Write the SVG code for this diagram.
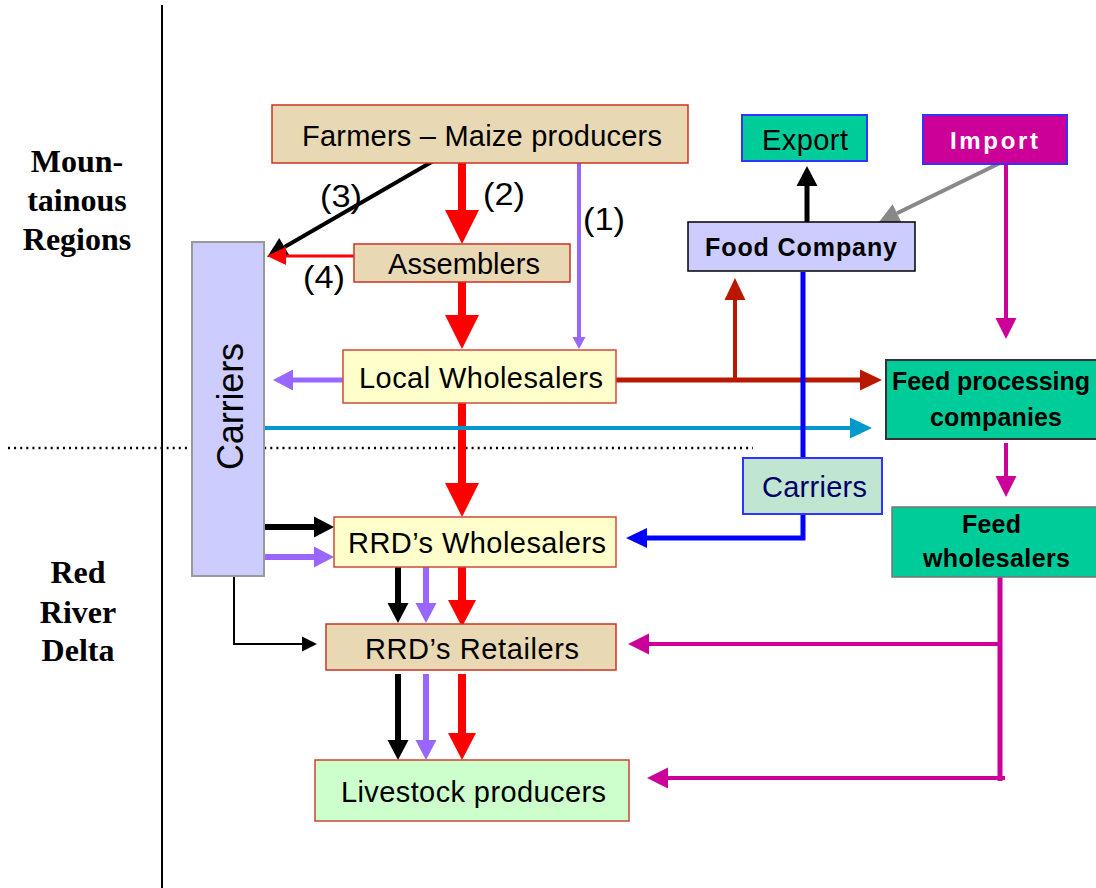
<svg xmlns="http://www.w3.org/2000/svg" width="1096" height="888" viewBox="0 0 1096 888">
<style>
.bg{fill:#ffffff}
.tan{fill:#E8D8B3;stroke:#CC3322;stroke-width:1.5}
.yel{fill:#FFFFCC;stroke:#D04A3A;stroke-width:1.5}
.grn{fill:#CCFFCC;stroke:#CC4433;stroke-width:1.5}
.lav{fill:#CCCCFF}
.teal{fill:#00CC99}
.t{font-family:"Liberation Sans",Arial,sans-serif;font-size:29px;fill:#000}
.tb{font-family:"Liberation Sans",Arial,sans-serif;font-size:25px;font-weight:bold;fill:#000}
.lab{font-family:"Liberation Sans",Arial,sans-serif;font-size:31px;fill:#000}
.reg{font-family:"Liberation Serif","Times New Roman",serif;font-size:32px;font-weight:bold;fill:#000;text-anchor:middle}
.c{fill:none;stroke-linecap:butt;stroke-linejoin:miter}
</style>
<defs>
<marker id="aRedL" markerUnits="userSpaceOnUse" orient="auto" markerWidth="40" markerHeight="40" refX="0" refY="17" viewBox="0 0 40 40" overflow="visible"><path d="M0,0 L34,17 L0,34 z" fill="#FF0000"/></marker>
<marker id="aRedM" markerUnits="userSpaceOnUse" orient="auto" markerWidth="30" markerHeight="30" refX="0" refY="14" viewBox="0 0 30 30" overflow="visible"><path d="M0,0 L27,14 L0,28 z" fill="#FF0000"/></marker>
<marker id="aRedS" markerUnits="userSpaceOnUse" orient="auto" markerWidth="20" markerHeight="20" refX="0" refY="9" viewBox="0 0 20 20" overflow="visible"><path d="M0,0 L19,9 L0,18 z" fill="#FF0000"/></marker>
<marker id="aBlk" markerUnits="userSpaceOnUse" orient="auto" markerWidth="22" markerHeight="22" refX="0" refY="10.5" viewBox="0 0 22 22" overflow="visible"><path d="M0,0 L20,10.5 L0,21 z" fill="#000"/></marker>
<marker id="aBlkS" markerUnits="userSpaceOnUse" orient="auto" markerWidth="16" markerHeight="16" refX="0" refY="7.5" viewBox="0 0 16 16" overflow="visible"><path d="M0,0 L15,7.5 L0,15 z" fill="#000"/></marker>
<marker id="aPur" markerUnits="userSpaceOnUse" orient="auto" markerWidth="22" markerHeight="22" refX="0" refY="10.5" viewBox="0 0 22 22" overflow="visible"><path d="M0,0 L20,10.5 L0,21 z" fill="#9966FF"/></marker>
<marker id="aPurS" markerUnits="userSpaceOnUse" orient="auto" markerWidth="14" markerHeight="14" refX="0" refY="6.5" viewBox="0 0 14 14" overflow="visible"><path d="M0,0 L12,6.5 L0,13 z" fill="#9966FF"/></marker>
<marker id="aDRed" markerUnits="userSpaceOnUse" orient="auto" markerWidth="24" markerHeight="24" refX="0" refY="10.5" viewBox="0 0 24 24" overflow="visible"><path d="M0,0 L22,10.5 L0,21 z" fill="#B81800"/></marker>
<marker id="aCyan" markerUnits="userSpaceOnUse" orient="auto" markerWidth="24" markerHeight="24" refX="0" refY="10.5" viewBox="0 0 24 24" overflow="visible"><path d="M0,0 L22,10.5 L0,21 z" fill="#0099CC"/></marker>
<marker id="aBlue" markerUnits="userSpaceOnUse" orient="auto" markerWidth="24" markerHeight="24" refX="0" refY="10" viewBox="0 0 24 24" overflow="visible"><path d="M0,0 L21,10 L0,20 z" fill="#0000FF"/></marker>
<marker id="aMag" markerUnits="userSpaceOnUse" orient="auto" markerWidth="24" markerHeight="24" refX="0" refY="10.5" viewBox="0 0 24 24" overflow="visible"><path d="M0,0 L21,10.5 L0,21 z" fill="#CC0099"/></marker>
<marker id="aGray" markerUnits="userSpaceOnUse" orient="auto" markerWidth="24" markerHeight="24" refX="0" refY="10" viewBox="0 0 24 24" overflow="visible"><path d="M0,0 L20,10 L0,20 z" fill="#888888"/></marker>
</defs>
<rect class="bg" x="0" y="0" width="1096" height="888"/>

<g id="dividers">
<line x1="162" y1="5" x2="162" y2="888" stroke="#000" stroke-width="2"/>
<line x1="8" y1="448" x2="753" y2="448" stroke="#000" stroke-width="2.5" stroke-dasharray="2 4.1"/>
</g>

<g id="region-labels">
<text class="reg" x="77" y="172">Moun-</text>
<text class="reg" x="77" y="211">tainous</text>
<text class="reg" x="77" y="250">Regions</text>
<text class="reg" x="78" y="583">Red</text>
<text class="reg" x="78" y="623">River</text>
<text class="reg" x="78" y="661">Delta</text>
</g>

<g id="connectors">
<!-- main red chain -->
<line class="c" x1="462" y1="163" x2="462" y2="210" stroke="#FF0000" stroke-width="8" marker-end="url(#aRedL)"/>
<line class="c" x1="462" y1="282" x2="462" y2="315" stroke="#FF0000" stroke-width="8" marker-end="url(#aRedL)"/>
<line class="c" x1="462" y1="403" x2="462" y2="483" stroke="#FF0000" stroke-width="8" marker-end="url(#aRedL)"/>
<!-- (1) purple -->
<line class="c" x1="579" y1="163" x2="579" y2="337" stroke="#9966FF" stroke-width="4" marker-end="url(#aPurS)"/>
<!-- (3) black -->
<line class="c" x1="435" y1="160" x2="284.5" y2="247" stroke="#000" stroke-width="4" marker-end="url(#aBlk)"/>
<!-- (4) red -->
<line class="c" x1="354" y1="256" x2="286" y2="256" stroke="#FF0000" stroke-width="3" marker-end="url(#aRedS)"/>
<!-- local wholesalers -> carriers -->
<line class="c" x1="343" y1="380" x2="293" y2="380" stroke="#9966FF" stroke-width="5" marker-end="url(#aPur)"/>
<!-- local wholesalers -> feed processing, branch to food company -->
<line class="c" x1="616" y1="380" x2="860" y2="380" stroke="#B81800" stroke-width="5" marker-end="url(#aDRed)"/>
<line class="c" x1="735" y1="380" x2="735" y2="300" stroke="#B81800" stroke-width="4" marker-end="url(#aDRed)"/>
<!-- food company -> export -->
<line class="c" x1="807" y1="222" x2="807" y2="186" stroke="#000" stroke-width="5" marker-end="url(#aBlk)"/>
<!-- import -> food company -->
<line class="c" x1="1000" y1="163" x2="897" y2="213.2" stroke="#888888" stroke-width="4" marker-end="url(#aGray)"/>
<!-- import -> feed processing -->
<line class="c" x1="1006" y1="164" x2="1006" y2="318" stroke="#CC0099" stroke-width="4" marker-end="url(#aMag)"/>
<line class="c" x1="1006" y1="443" x2="1006" y2="476" stroke="#CC0099" stroke-width="4" marker-end="url(#aMag)"/>
<!-- feed wholesalers -> retailers / livestock -->
<path class="c" d="M1000,577 V781" stroke="#CC0099" stroke-width="5"/>
<line class="c" x1="1000" y1="644" x2="649" y2="644" stroke="#CC0099" stroke-width="4" marker-end="url(#aMag)"/>
<line class="c" x1="1005" y1="778" x2="668" y2="778" stroke="#CC0099" stroke-width="4" marker-end="url(#aMag)"/>
<!-- cyan carriers -> feed processing -->
<line class="c" x1="264" y1="428" x2="850" y2="428" stroke="#0099CC" stroke-width="4" marker-end="url(#aCyan)"/>
<!-- blue food company -> carriers -> RRD wholesalers -->
<path class="c" d="M803,272 V538 H647" stroke="#0000FF" stroke-width="5" marker-end="url(#aBlue)"/>
<!-- carriers -> RRD wholesalers -->
<line class="c" x1="264" y1="527" x2="314" y2="527" stroke="#000" stroke-width="6" marker-end="url(#aBlk)"/>
<line class="c" x1="264" y1="557" x2="314" y2="557" stroke="#9966FF" stroke-width="6" marker-end="url(#aPur)"/>
<!-- carriers -> RRD retailers thin -->
<path class="c" d="M234,576 V644 H302" stroke="#000" stroke-width="2" marker-end="url(#aBlkS)"/>
<!-- RRD wholesalers -> retailers -->
<line class="c" x1="398" y1="567" x2="398" y2="603" stroke="#000" stroke-width="6" marker-end="url(#aBlk)"/>
<line class="c" x1="426" y1="567" x2="426" y2="603" stroke="#9966FF" stroke-width="6" marker-end="url(#aPur)"/>
<line class="c" x1="462" y1="567" x2="462" y2="600" stroke="#FF0000" stroke-width="8" marker-end="url(#aRedM)"/>
<!-- retailers -> livestock -->
<line class="c" x1="398" y1="674" x2="398" y2="740" stroke="#000" stroke-width="6" marker-end="url(#aBlk)"/>
<line class="c" x1="426" y1="674" x2="426" y2="740" stroke="#9966FF" stroke-width="6" marker-end="url(#aPur)"/>
<line class="c" x1="462" y1="674" x2="462" y2="733" stroke="#FF0000" stroke-width="8" marker-end="url(#aRedM)"/>
</g>

<g id="edge-labels">
<text class="lab" x="583" y="230" textLength="42" lengthAdjust="spacingAndGlyphs">(1)</text>
<text class="lab" x="483" y="205" textLength="42" lengthAdjust="spacingAndGlyphs">(2)</text>
<text class="lab" x="320" y="207" textLength="42" lengthAdjust="spacingAndGlyphs">(3)</text>
<text class="lab" x="303" y="288" textLength="42" lengthAdjust="spacingAndGlyphs">(4)</text>
</g>

<g id="farmers">
<rect class="tan" x="272" y="105" width="416" height="58"/>
<text class="t" x="302" y="146" textLength="360" lengthAdjust="spacing">Farmers – Maize producers</text>
</g>
<g id="assemblers">
<rect class="tan" x="354" y="244" width="216" height="38"/>
<text class="t" x="388" y="274" textLength="152" lengthAdjust="spacing">Assemblers</text>
</g>
<g id="carriers-left">
<rect class="lav" x="192" y="242" width="72" height="334" stroke="#999999" stroke-width="2"/>
<text class="t" style="font-size:36px" transform="translate(243,470) rotate(-90)" x="0" y="0" textLength="127" lengthAdjust="spacing">Carriers</text>
</g>
<g id="local-wholesalers">
<rect class="yel" x="343" y="350" width="273" height="53"/>
<text class="t" x="359" y="388" textLength="244" lengthAdjust="spacing">Local Wholesalers</text>
</g>
<g id="rrd-wholesalers">
<rect class="yel" x="334" y="517" width="282" height="50"/>
<text class="t" x="348" y="553" textLength="258" lengthAdjust="spacing">RRD’s Wholesalers</text>
</g>
<g id="rrd-retailers">
<rect class="tan" x="326" y="624" width="290" height="46"/>
<text class="t" x="365" y="659" textLength="214" lengthAdjust="spacing">RRD’s Retailers</text>
</g>
<g id="livestock-producers">
<rect class="grn" x="315" y="760" width="314" height="61"/>
<text class="t" x="341" y="802" textLength="265" lengthAdjust="spacing">Livestock producers</text>
</g>
<g id="export">
<rect class="teal" x="742" y="115" width="125" height="46" stroke="#3333FF" stroke-width="2"/>
<text class="t" x="762" y="150" textLength="86" lengthAdjust="spacing">Export</text>
</g>
<g id="import">
<rect x="923" y="115" width="144" height="49" fill="#CC0099" stroke="#3333FF" stroke-width="2"/>
<text class="tb" x="950" y="149" fill="#ffffff" style="fill:#ffffff;font-size:24px" textLength="88" lengthAdjust="spacing">Import</text>
</g>
<g id="food-company">
<rect class="lav" x="688" y="222" width="227" height="49" stroke="#000" stroke-width="1.5"/>
<text class="tb" x="705" y="256" textLength="192" lengthAdjust="spacing">Food Company</text>
</g>
<g id="carriers-right">
<rect x="743" y="458" width="139" height="56" fill="#C0E6D2" stroke="#3333FF" stroke-width="2"/>
<text class="t" x="762" y="497" style="fill:#000066" textLength="105" lengthAdjust="spacing">Carriers</text>
</g>
<g id="feed-processing">
<rect class="teal" x="886" y="360" width="212" height="79" stroke="#333333" stroke-width="2"/>
<text class="tb" x="892" y="390" textLength="198" lengthAdjust="spacing">Feed processing</text>
<text class="tb" x="930" y="426" textLength="132" lengthAdjust="spacing">companies</text>
</g>
<g id="feed-wholesalers">
<rect class="teal" x="892" y="507" width="206" height="70" stroke="#777777" stroke-width="1.5"/>
<text class="tb" x="962" y="533" textLength="59" lengthAdjust="spacing">Feed</text>
<text class="tb" x="923" y="567" textLength="147" lengthAdjust="spacing">wholesalers</text>
</g>
</svg>
